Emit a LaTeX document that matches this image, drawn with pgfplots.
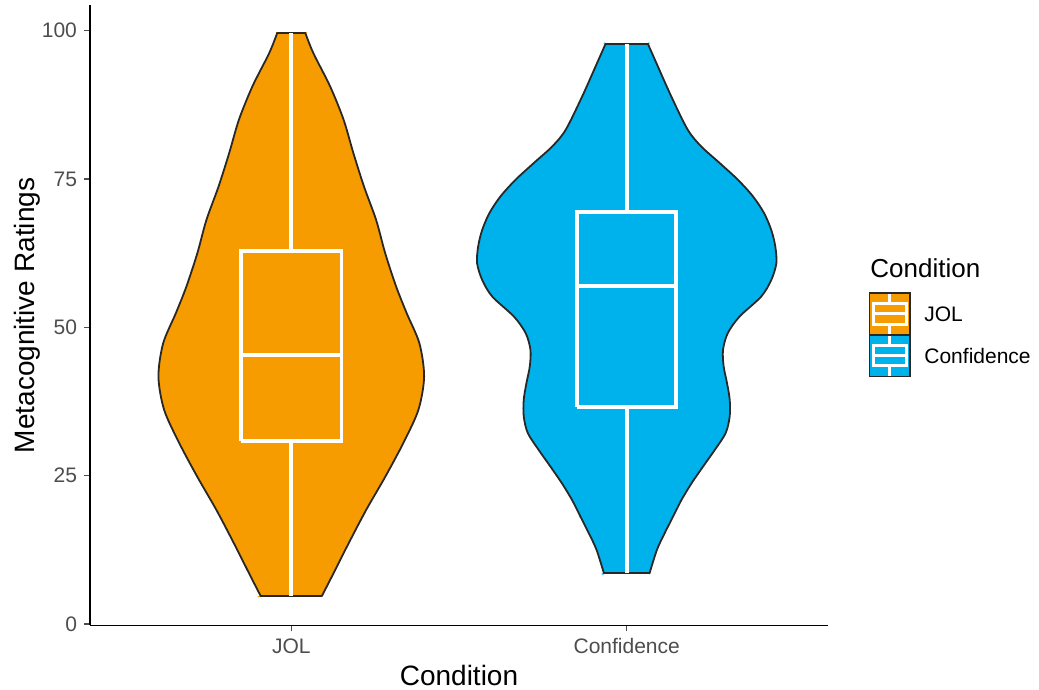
\documentclass[border=0pt]{standalone}
\usepackage{fontspec}
\setmainfont{Liberation Sans}
\usepackage{pgfplots}
\usepackage{pgfplotstable}
\pgfplotsset{compat=1.18}
\definecolor{jol}{RGB}{246,155,0}
\definecolor{conf}{RGB}{0,178,236}
\definecolor{outl}{RGB}{40,40,40}
\definecolor{tickgray}{RGB}{77,77,77}
% violin outlines: right side bottom->top, then left side top->bottom (corners repeated)
\pgfplotstableread{
x y
1.091 4.7
1.091 4.7
1.121 8.0
1.171 13.6
1.223 19.2
1.280 24.8
1.334 30.5
1.379 36.1
1.396 41.7
1.382 47.3
1.344 52.4
1.3125 56.9
1.280 62.5
1.253 68.1
1.217 73.7
1.185 79.4
1.156 85.0
1.116 90.6
1.066 96.2
1.042 99.6
1.042 99.6
0.958 99.6
0.958 99.6
0.934 96.2
0.884 90.6
0.844 85.0
0.815 79.4
0.783 73.7
0.747 68.1
0.720 62.5
0.6875 56.9
0.656 52.4
0.618 47.3
0.604 41.7
0.621 36.1
0.666 30.5
0.720 24.8
0.777 19.2
0.829 13.6
0.879 8.0
0.909 4.7
0.909 4.7
1.091 4.7
}\jol
\pgfplotstableread{
x y
2.068 8.55
2.068 8.55
2.090 12.5
2.113 15.3
2.138 18.1
2.163 20.9
2.193 23.7
2.227 26.5
2.262 29.3
2.295 32.2
2.307 35.0
2.307 37.8
2.299 40.6
2.289 43.4
2.287 46.2
2.301 49.0
2.336 51.8
2.401 55.2
2.431 58.0
2.446 60.8
2.443 63.6
2.431 66.4
2.409 69.3
2.376 72.1
2.331 74.9
2.277 77.7
2.222 80.5
2.182 83.3
2.133 88.9
2.088 94.6
2.063 97.8
2.063 97.8
1.937 97.8
1.937 97.8
1.912 94.6
1.867 88.9
1.818 83.3
1.778 80.5
1.723 77.7
1.669 74.9
1.624 72.1
1.591 69.3
1.569 66.4
1.557 63.6
1.554 60.8
1.569 58.0
1.599 55.2
1.664 51.8
1.699 49.0
1.713 46.2
1.711 43.4
1.701 40.6
1.693 37.8
1.693 35.0
1.705 32.2
1.738 29.3
1.773 26.5
1.807 23.7
1.837 20.9
1.862 18.1
1.887 15.3
1.910 12.5
1.932 8.55
1.932 8.55
2.068 8.55
}\conf
\begin{document}
\begin{tikzpicture}
\path[use as bounding box] (0,0) rectangle (519.5pt,345pt);
\begin{axis}[
  at={(45pt,32.25pt)}, anchor=south west,
  scale only axis, width=369pt, height=310pt,
  xmin=0.4, xmax=2.6, ymin=-0.25, ymax=104.25,
  axis lines=left, axis line style={-, black, line width=0.8pt},
  xtick={1,2}, xticklabels={JOL,Confidence},
  ytick={0,25,50,75,100},
  tick align=outside, major tick length=3pt,
  tick style={tickgray, line width=0.6pt},
  ticklabel style={font=\fontsize{10.5}{12}\selectfont, text=tickgray},
  /pgf/number format/assume math mode=true,
  xlabel={Condition}, ylabel={Metacognitive Ratings},
  label style={font=\fontsize{14}{16}\selectfont},
  xlabel style={at={(axis description cs:0.5,-0.08)}, anchor=center},
  ylabel style={at={(axis description cs:-0.085,0.5)}, anchor=center},
  clip=false,
  vfill/.style={draw=none, smooth, tension=0.5},
  vline/.style={draw=outl, line width=0.9pt, line cap=round, line join=round, smooth, tension=0.5},
]
% JOL violin
\addplot[vfill, fill=jol] table {\jol};
\addplot[vline, restrict expr to domain={\coordindex}{1:19}] table {\jol};
\addplot[vline, restrict expr to domain={\coordindex}{22:40}] table {\jol};
\addplot[vline, restrict expr to domain={\coordindex}{20:21}] table {\jol};
\addplot[vline, restrict expr to domain={\coordindex}{41:42}] table {\jol};
% Confidence violin
\addplot[vfill, fill=conf] table {\conf};
\addplot[vline, restrict expr to domain={\coordindex}{1:30}] table {\conf};
\addplot[vline, restrict expr to domain={\coordindex}{33:62}] table {\conf};
\addplot[vline, restrict expr to domain={\coordindex}{31:32}] table {\conf};
\addplot[vline, restrict expr to domain={\coordindex}{63:64}] table {\conf};
% JOL box
\addplot[white, line width=2.1pt] coordinates {(1,4.7) (1,30.9)};
\addplot[white, line width=2.1pt] coordinates {(1,62.9) (1,99.6)};
\addplot[white, line width=1.9pt] coordinates {(0.85,30.9) (1.15,30.9) (1.15,62.9) (0.85,62.9) (0.85,30.9)};
\addplot[white, line width=2.1pt] coordinates {(0.85,45.4) (1.15,45.4)};
% Confidence box
\addplot[white, line width=2.1pt] coordinates {(2,8.55) (2,36.6)};
\addplot[white, line width=2.1pt] coordinates {(2,69.5) (2,97.8)};
\addplot[white, line width=1.9pt] coordinates {(1.852,36.6) (2.148,36.6) (2.148,69.5) (1.852,69.5) (1.852,36.6)};
\addplot[white, line width=2.1pt] coordinates {(1.852,57.0) (2.148,57.0)};
\end{axis}
% legend
\node[anchor=west, inner sep=0pt, font=\fontsize{13}{15}\selectfont] at (435pt,211pt) {Condition};
\foreach \c/\yb/\lab in {jol/177.6/JOL, conf/156.8/Confidence}{
  \fill[\c] (434.8pt,\yb pt) rectangle (455pt,\yb pt+20.8pt);
  \draw[white, line width=1.5pt] (444.9pt,\yb pt+20.8pt) -- (444.9pt,\yb pt+15.6pt);
  \draw[white, line width=1.5pt] (444.9pt,\yb pt) -- (444.9pt,\yb pt+5.2pt);
  \draw[white, line width=1.5pt] (436.8pt,\yb pt+5.2pt) rectangle (453pt,\yb pt+15.6pt);
  \draw[white, line width=1.5pt] (436.8pt,\yb pt+10.4pt) -- (453pt,\yb pt+10.4pt);
  \draw[outl, line width=0.8pt] (434.8pt,\yb pt) rectangle (455pt,\yb pt+20.8pt);
  \node[anchor=west, inner sep=0pt, font=\fontsize{10.5}{12}\selectfont] at (462pt,\yb pt+10.4pt) {\lab};
}
\end{tikzpicture}
\end{document}
